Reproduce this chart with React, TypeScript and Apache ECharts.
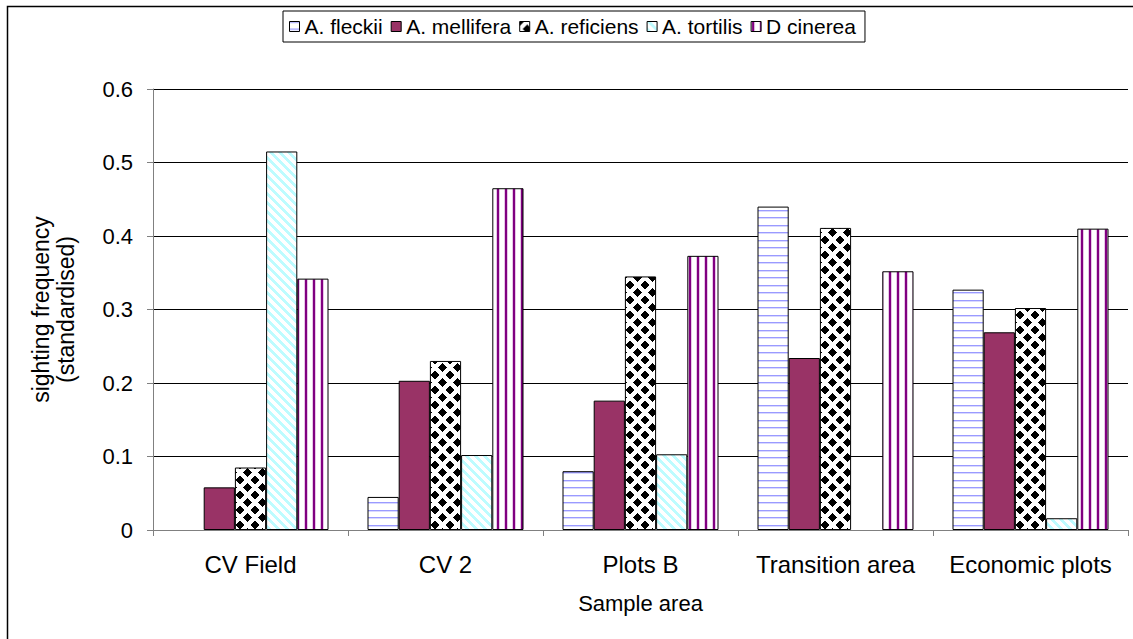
import React, { useEffect, useRef } from "react";
import * as echarts from "echarts";

const categories = ["CV Field", "CV 2", "Plots B", "Transition area", "Economic plots"];
const seriesNames = ["A. fleckii", "A. mellifera", "A. reficiens", "A. tortilis", "D cinerea"];
const fleckii = [0, 0.045, 0.08, 0.44, 0.327];
const mellifera = [0.058, 0.203, 0.176, 0.234, 0.269];
const reficiens = [0.085, 0.23, 0.345, 0.411, 0.302];
const tortilis = [0.515, 0.102, 0.103, 0, 0.016];
const cinerea = [0.342, 0.465, 0.373, 0.352, 0.41];
const yTicks = { min: 0, max: 0.6, interval: 0.1 };

const FONT = "'Liberation Sans', Arial, sans-serif";

function makeCanvas(w: number, h: number, fn: (x: number, y: number) => string) {
  const c = document.createElement("canvas");
  c.width = w;
  c.height = h;
  const ctx = c.getContext("2d")!;
  for (let y = 0; y < h; y++) {
    for (let x = 0; x < w; x++) {
      ctx.fillStyle = fn(x, y);
      ctx.fillRect(x, y, 1, 1);
    }
  }
  return c;
}

function patterns() {
  const horiz = makeCanvas(4, 15, (x, y) => {
    if (y === 0 || y === 7) return "#9a9aff";
    if (y === 1 || y === 8) return "#d8d8ff";
    return "#ffffff";
  });
  const diamonds = makeCanvas(15, 15, (x, y) => {
    const cx = x + 0.5, cy = y + 0.5;
    const d1 = Math.abs(cx - 7.5) + Math.abs(cy - 7.5);
    let d2 = 99;
    for (const X of [0, 15]) for (const Y of [0, 15]) d2 = Math.min(d2, Math.abs(cx - X) + Math.abs(cy - Y));
    return d1 < 4.8 || d2 < 4.8 ? "#000000" : "#ffffff";
  });
  const diag = makeCanvas(9, 9, (x, y) => {
    const v = (((x - y) % 9) + 9) % 9;
    return v < 4 ? "#bdfcff" : "#ffffff";
  });
  const vert = makeCanvas(8, 4, (x) => {
    if (x === 1 || x === 2) return "#800080";
    if (x === 0 || x === 3) return "#e6c6e6";
    return "#ffffff";
  });
  return { horiz, diamonds, diag, vert };
}

export default function App() {
  const ref = useRef<HTMLDivElement>(null);
  useEffect(() => {
    if (!ref.current) return;
    const chart = echarts.init(ref.current, null, { renderer: "svg" });
    const p = patterns();
    const fills: any[] = [
      { image: p.horiz, repeat: "repeat" },
      "#993366",
      { image: p.diamonds, repeat: "repeat" },
      { image: p.diag, repeat: "repeat" },
      { image: p.vert, repeat: "repeat" },
    ];
    const data = [fleckii, mellifera, reficiens, tortilis, cinerea];
    chart.setOption({
      animation: false,
      backgroundColor: "#ffffff",
      textStyle: { fontFamily: FONT },
      graphic: [
        {
          type: "rect",
          z: 100,
          silent: true,
          shape: { x: 7.5, y: 6.5, width: 1300, height: 800 },
          style: { fill: "none", stroke: "#000", lineWidth: 1.5 },
        },
      ],
      legend: {
        data: seriesNames,
        left: 283,
        top: 11,
        orient: "horizontal",
        icon: "rect",
        itemWidth: 10,
        itemHeight: 10,
        itemGap: 8,
        padding: [5, 9, 5, 6],
        borderColor: "#000",
        borderWidth: 1,
        itemStyle: { borderColor: "#000", borderWidth: 1 },
        textStyle: { fontSize: 21, color: "#000", fontFamily: FONT },
      },
      grid: { left: 153, right: 5, top: 89, bottom: 109 },
      xAxis: {
        type: "category",
        data: categories,
        name: "Sample area",
        nameLocation: "middle",
        nameGap: 62,
        nameTextStyle: { fontSize: 22, color: "#000", fontFamily: FONT },
        axisLine: { lineStyle: { color: "#808080", width: 1 } },
        axisTick: { show: true, alignWithLabel: false, length: 6, lineStyle: { color: "#808080" } },
        axisLabel: { fontSize: 24, color: "#000", margin: 22, interval: 0, fontFamily: FONT },
      },
      yAxis: {
        type: "value",
        min: yTicks.min,
        max: yTicks.max,
        interval: yTicks.interval,
        name: "sighting frequency\n(standardised)",
        nameLocation: "middle",
        nameGap: 75,
        nameRotate: 90,
        nameTextStyle: { fontSize: 23, color: "#000", lineHeight: 25, fontFamily: FONT },
        axisLine: { show: true, lineStyle: { color: "#808080", width: 1 } },
        axisTick: { show: true, length: 6, lineStyle: { color: "#808080" } },
        axisLabel: { fontSize: 22, color: "#000", margin: 20, fontFamily: FONT },
        splitLine: { show: true, lineStyle: { color: "#000", width: 1 } },
      },
      series: seriesNames.map((name, i) => ({
        name,
        type: "bar",
        data: data[i].map((v) => (v === 0 ? { value: v, itemStyle: { borderWidth: 0 } } : v)),
        barGap: "0%",
        barCategoryGap: "20%",
        itemStyle: { color: fills[i], borderColor: "#000", borderWidth: 1 },
      })),
    });
    return () => chart.dispose();
  }, []);
  return (
    <div
      ref={ref}
      style={{ position: "absolute", left: 0, top: 0, width: 1133, height: 639, background: "#fff" }}
    />
  );
}
